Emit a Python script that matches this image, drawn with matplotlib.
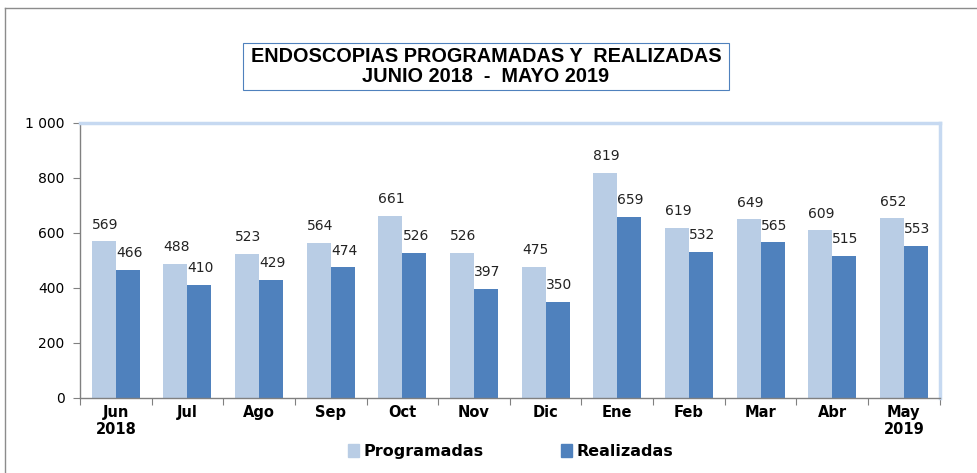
import numpy as np
from matplotlib import pyplot as plt
from matplotlib.lines import Line2D
from matplotlib.patches import Patch, Rectangle

meses = ["Jun\n2018", "Jul", "Ago", "Sep", "Oct", "Nov", "Dic", "Ene", "Feb", "Mar", "Abr", "May\n2019"]
programadas = [569, 488, 523, 564, 661, 526, 475, 819, 619, 649, 609, 652]
realizadas = [466, 410, 429, 474, 526, 397, 350, 659, 532, 565, 515, 553]

c_prog = "#B9CDE5"
c_real = "#4F81BD"

plt.rcParams['font.family'] = ['Liberation Sans', 'DejaVu Sans']

fig = plt.figure(figsize=(9.78, 4.73), dpi=100)
ax = fig.add_axes([0.0818, 0.1586, 0.879, 0.582])

x = np.arange(len(meses))
w = 0.335
b1 = ax.bar(x - w / 2, programadas, w, color=c_prog, label="Programadas")
b2 = ax.bar(x + w / 2, realizadas, w, color=c_real, label="Realizadas")

for bars, vals in ((b1, programadas), (b2, realizadas)):
    for r, v in zip(bars, vals):
        ax.annotate(str(v), (r.get_x() + r.get_width() / 2, v), xytext=(1, 7),
                    textcoords="offset points", ha="center", va="bottom",
                    fontsize=10, family="DejaVu Sans", color="#222222")

ax.set_xlim(-0.5, len(meses) - 0.5)
ax.set_ylim(0, 1000)
ax.set_yticks([0, 200, 400, 600, 800, 1000])
ax.set_yticklabels(["0", "200", "400", "600", "800", "1 000"], family="DejaVu Sans", fontsize=10)
ax.set_xticks(np.arange(len(meses) + 1) - 0.5, minor=False)
ax.set_xticklabels([])
ax.set_xticks(x, minor=True)
ax.set_xticklabels(meses, minor=True, fontweight="bold", fontsize=10.5, family="DejaVu Sans")
ax.tick_params(axis="x", which="minor", length=0, pad=5)
ax.tick_params(axis="x", which="major", length=5, color="#808080", direction="out")
ax.tick_params(axis="y", length=5, color="#808080", pad=6)

for s in ("top", "right"):
    ax.spines[s].set_color("#C6D9F1")
    ax.spines[s].set_linewidth(2.5)
for s in ("left", "bottom"):
    ax.spines[s].set_color("#808080")
    ax.spines[s].set_linewidth(1)

leg = fig.legend(handles=[Patch(color=c_prog, label="Programadas"), Patch(color=c_real, label="Realizadas")],
                 loc="center", bbox_to_anchor=(0.522, 0.045), ncol=2, frameon=False,
                 prop={"weight": "bold", "size": 11.5, "family": "DejaVu Sans"},
                 handlelength=0.7, handleheight=0.9, handletextpad=0.3, columnspacing=4.8)

# caja del titulo
fig.add_artist(Rectangle((243 / 978, 1 - 90 / 473), 486 / 978, 47 / 473, transform=fig.transFigure,
                         fc="white", ec="#4F81BD", lw=0.8))
fig.text(486 / 978, 1 - 66.5 / 473, "ENDOSCOPIAS PROGRAMADAS Y  REALIZADAS\nJUNIO 2018  -  MAYO 2019",
         ha="center", va="center", fontsize=14.3, fontweight="bold", linespacing=1.0)

# marco exterior del grafico
fig.add_artist(Line2D([0.005, 1.0], [0.983, 0.983], transform=fig.transFigure, color="#8c8c8c", lw=1))
fig.add_artist(Line2D([0.005, 0.005], [0.0, 0.983], transform=fig.transFigure, color="#8c8c8c", lw=1))

fig.savefig("out.png", dpi=100)
